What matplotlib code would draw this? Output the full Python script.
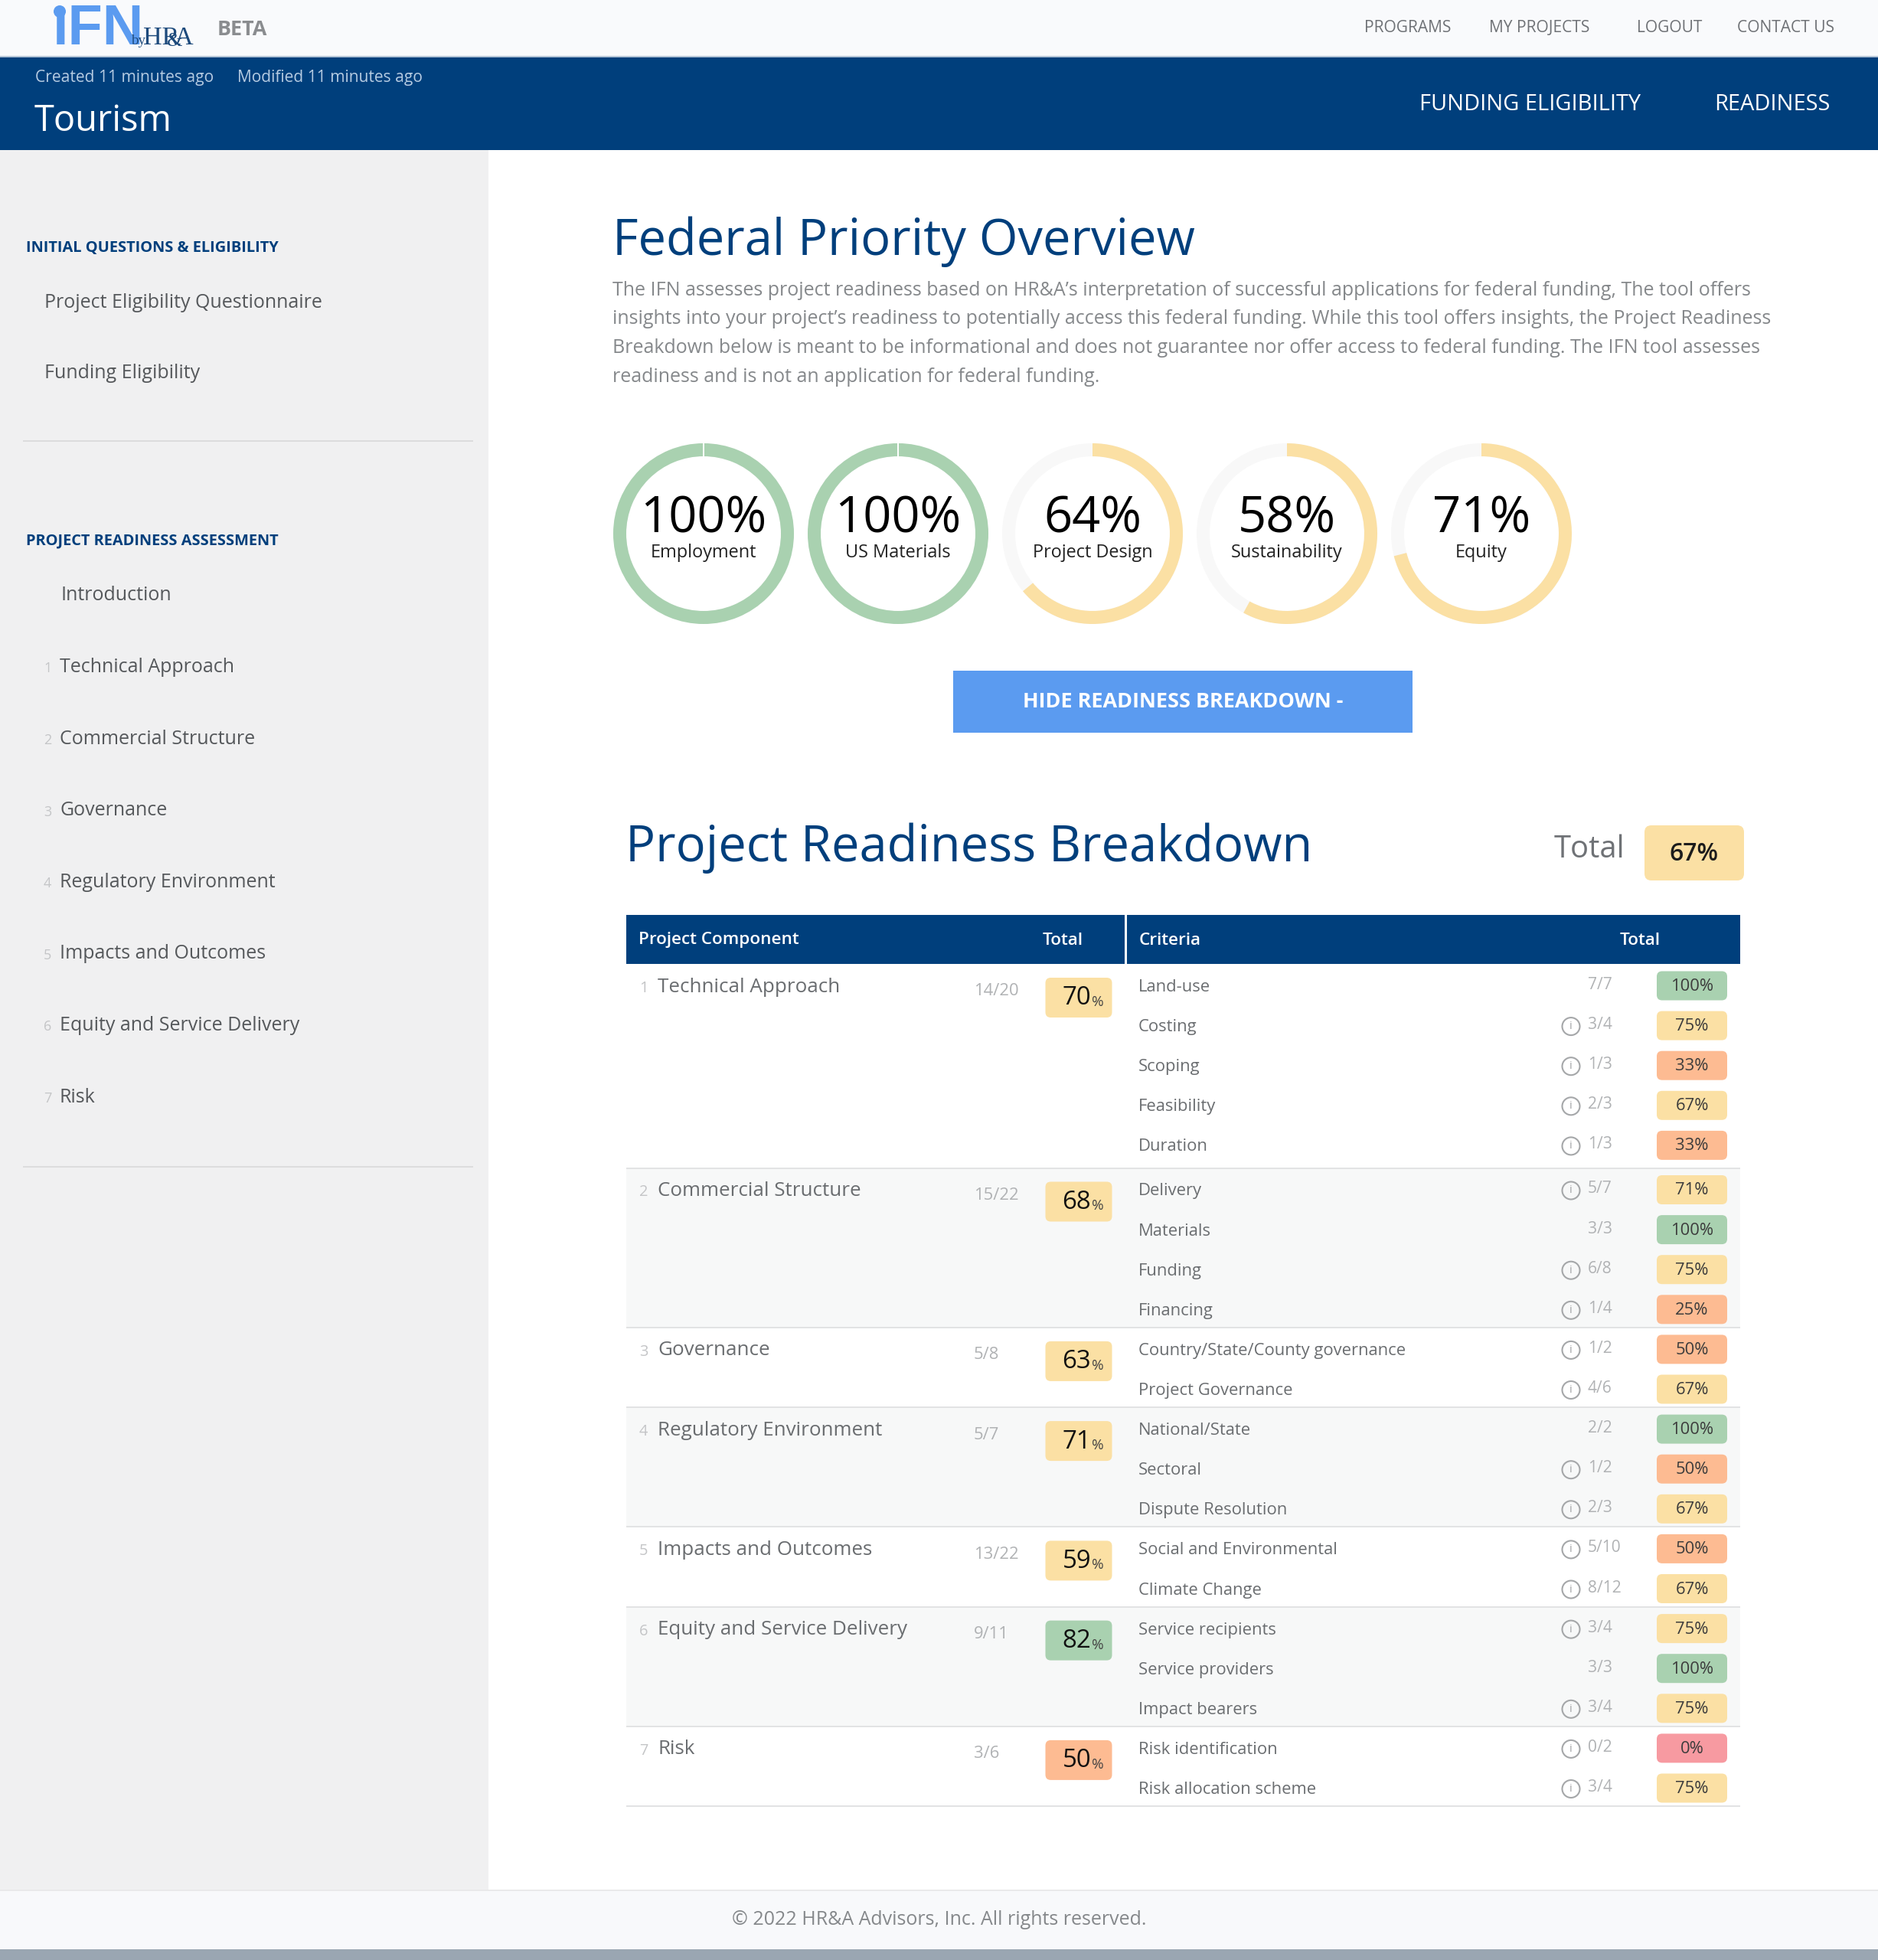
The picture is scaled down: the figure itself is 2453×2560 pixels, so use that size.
import matplotlib
matplotlib.use("Agg")
import matplotlib.pyplot as plt
from matplotlib.patches import Rectangle, FancyBboxPatch, Wedge, Circle

W, H = 2453, 2560
S = 1.6332

NAVY = "#003f7c"
GREEN = "#a9d1b0"
YELLOW = "#fbe0a4"
ORANGE = "#fdbb92"
RED = "#f79aa1"
BLUE = "#5b9bf0"
GREY = "#6f7276"
LIGHT = "#a8abae"

nav_items = ["PROGRAMS", "MY PROJECTS", "LOGOUT", "CONTACT US"]
nav_x = [1782, 1945, 2138, 2269]
donut_labels = ["Employment", "US Materials", "Project Design", "Sustainability", "Equity"]
donut_values = [100, 100, 64, 58, 71]
side_top = ["Project Eligibility Questionnaire", "Funding Eligibility"]
components = ["Technical Approach", "Commercial Structure", "Governance", "Regulatory Environment",
              "Impacts and Outcomes", "Equity and Service Delivery", "Risk"]
comp_scores = ["14/20", "15/22", "5/8", "5/7", "13/22", "9/11", "3/6"]
comp_pct = [70, 68, 63, 71, 59, 82, 50]
criteria = [
    ["Land-use", "Costing", "Scoping", "Feasibility", "Duration"],
    ["Delivery", "Materials", "Funding", "Financing"],
    ["Country/State/County governance", "Project Governance"],
    ["National/State", "Sectoral", "Dispute Resolution"],
    ["Social and Environmental", "Climate Change"],
    ["Service recipients", "Service providers", "Impact bearers"],
    ["Risk identification", "Risk allocation scheme"],
]
crit_scores = [
    ["7/7", "3/4", "1/3", "2/3", "1/3"],
    ["5/7", "3/3", "6/8", "1/4"],
    ["1/2", "4/6"],
    ["2/2", "1/2", "2/3"],
    ["5/10", "8/12"],
    ["3/4", "3/3", "3/4"],
    ["0/2", "3/4"],
]
crit_pct = [
    [100, 75, 33, 67, 33],
    [71, 100, 75, 25],
    [50, 67],
    [100, 50, 67],
    [50, 67],
    [75, 100, 75],
    [0, 75],
]
total_pct = 67
intro = ["The IFN assesses project readiness based on HR&A\u2019s interpretation of successful applications for federal funding, The tool offers",
         "insights into your project\u2019s readiness to potentially access this federal funding. While this tool offers insights, the Project Readiness",
         "Breakdown below is meant to be informational and does not guarantee nor offer access to federal funding. The IFN tool assesses",
         "readiness and is not an application for federal funding."]


def pt(px):
    return px * 0.72


def colour(p):
    if p >= 80:
        return GREEN
    if p >= 55:
        return YELLOW
    if p > 0:
        return ORANGE
    return RED


plt.rcParams["font.family"] = ["Open Sans", "DejaVu Sans"]
fig = plt.figure(figsize=(W / 100, H / 100), dpi=100, facecolor="white")
ax = fig.add_axes([0, 0, 1, 1])
ax.set_xlim(0, W)
ax.set_ylim(H, 0)
ax.axis("off")


def T(x, y, s, size, c=GREY, ha="left", va="center", **kw):
    return ax.text(x, y, s, fontsize=pt(size), color=c, ha=ha, va=va, **kw)


def R(x0, y0, x1, y1, c, z=1):
    ax.add_patch(Rectangle((x0, y0), x1 - x0, y1 - y0, fc=c, ec="none", zorder=z))


def pill(cx, cy, w, h, c, r=7):
    ax.add_patch(FancyBboxPatch((cx - w / 2 + r, cy - h / 2 + r), w - 2 * r, h - 2 * r,
                                boxstyle=f"round,pad={r},rounding_size={r}", fc=c, ec="none", zorder=2))


# page furniture
R(0, 0, W, 73, "#f9fafc")
R(0, 73, W, 75, "#b4c4d6")
R(0, 75, W, 196, NAVY)
R(0, 196, 638, 2470, "#f0f0f1")
R(0, 2470, W, 2546, "#f8f9fb")
R(0, 2468, W, 2470, "#e9e9ea", 2)
R(0, 2546, W, 2560, "#9aa6b2")

# logo
LOGO = "#5b9bf0"
T(69, 58, "\u0131FN", 74, LOGO, va="baseline", family="Liberation Sans", fontweight="bold")
ax.add_patch(Circle((78, 15), 8, fc=LOGO, ec="none", zorder=3))
T(171, 58, "by", 19, "#1d4a7c", va="baseline", family="Liberation Serif")
T(187, 58, "HR", 34, "#1d4a7c", va="baseline", family="Liberation Serif")
T(218, 60, "&", 26, "#1d4a7c", va="baseline", family="Liberation Serif")
T(228, 58, "A", 34, "#1d4a7c", va="baseline", family="Liberation Serif")
T(284, 39, "BETA", 27, "#8a8c8f", fontweight="bold", fontstretch="normal")

for x, s in zip(nav_x, nav_items):
    T(x, 37, s, 21, GREY, fontweight="normal").set_gid("nav")

T(46, 101, "Created 11 minutes ago", 21, "#b6cbe2")
T(310, 101, "Modified 11 minutes ago", 21, "#b6cbe2")
T(45, 158, "Tourism", 47, "white")
T(1854, 136, "FUNDING ELIGIBILITY", 29, "white")
T(2239, 136, "READINESS", 29, "white")

# sidebar
T(34, 324, "INITIAL QUESTIONS & ELIGIBILITY", 20, NAVY, fontweight="bold")
for y, s in zip([396, 488], side_top):
    T(58, y, s, 25, "#55585b")
R(30, 575, 618, 577, "#dcdcdd", 2)
T(34, 706, "PROJECT READINESS ASSESSMENT", 20, NAVY, fontweight="bold")
T(80, 778, "Introduction", 25, "#55585b")
for i, s in enumerate(components):
    y = 871.5 + i * 93.6
    T(57, y + 2, str(i + 1), 18, "#c4c5c7")
    T(78, y, s, 25, "#55585b")
R(30, 1523, 618, 1525, "#dcdcdd", 2)

# intro
T(800, 316, "Federal Priority Overview", 65, NAVY)
for i, s in enumerate(intro):
    T(800, 379 + i * 37.7, s, 25, "#85888b")

# donuts
centres = [919, 1173, 1427, 1681, 1935]
CY, RO, RW = 697, 118, 17
for cx, v, lab in zip(centres, donut_values, donut_labels):
    col = GREEN if v >= 80 else YELLOW
    ax.add_patch(Wedge((cx, CY), RO, 0, 360, width=RW, fc="#f8f8f8", ec="none", zorder=2))
    # y axis is inverted: angles run clockwise on screen, starting at 12 o'clock = -90
    ax.add_patch(Wedge((cx, CY), RO, -90, -90 + 3.6 * v, width=RW, fc=col, ec="none", zorder=3))
    if v == 100:
        R(cx - 0.8, CY - RO, cx + 0.8, CY - RO + RW, "white", 4)
    T(cx, 679, f"{v}%", 65, "black", ha="center", fontweight="medium")
    T(cx, 722, lab, 23.5, "#222222", ha="center")

# button
R(1245, 876, 1845, 957, BLUE)
T(1545, 917, "HIDE READINESS BREAKDOWN -", 27, "white", ha="center", fontweight="bold")

# breakdown title
T(817, 1108, "Project Readiness Breakdown", 65, NAVY)
T(2030, 1110, "Total", 40, GREY)
pill(2213, 1114, 130, 72, YELLOW, 9)
T(2213, 1115, f"{total_pct}%", 32, "#1c1c1c", ha="center", fontweight="semibold")

# table
X0, XM0, XM1, X1 = 818, 1469, 1472, 2273
HT, HB = 1195, 1259
R(X0, HT, XM0, HB, NAVY)
R(XM1, HT, X1, HB, NAVY)
T(834, 1228, "Project Component", 22.5, "white", fontweight="semibold")
T(1362, 1228, "Total", 22.5, "white", fontweight="semibold")
T(1488, 1228, "Criteria", 22.5, "white", fontweight="semibold")
T(2116, 1228, "Total", 22.5, "white", fontweight="semibold")

PITCH = 52.1
top = HB
for i, comp in enumerate(components):
    n = len(criteria[i])
    h = n * PITCH + (6 if i == 0 else 0)
    if i % 2 == 1:
        R(X0, top, X1, top + h, "#f7f8f8", 1)
    R(X0, top + h - 1, X1, top + h + 1, "#e2e3e4", 2)
    T(835, top + 32, str(i + 1), 20, "#c4c5c7")
    T(859, top + 30, comp, 26, "#6a6d70")
    T(1272, top + 36, comp_scores[i], 22, "#b0b2b4")
    pcx, pcy = 1409, top + 44
    pill(pcx, pcy, 87, 52, colour(comp_pct[i]))
    T(pcx + 16, pcy + 1, str(comp_pct[i]), 33, "#111111", ha="right", fontweight="medium")
    T(pcx + 17, pcy + 6, "%", 19, "#444444")
    for j in range(n):
        cy = top + 28.5 + j * PITCH
        T(1487, cy + 2, criteria[i][j], 22, "#6a6d70")
        s = crit_scores[i][j]
        T(2074, cy - 1, s, 21, "#b0b2b4")
        num, den = s.split("/")
        if num != den:
            ax.add_patch(Circle((2052, cy + 1), 11.5, fc="none", ec="#a5a7a9", lw=1.5, zorder=3))
            T(2052, cy + 1, "i", 15, "#a5a7a9", ha="center")
        pill(2210, cy, 92, 38, colour(crit_pct[i][j]))
        T(2210, cy + 1, f"{crit_pct[i][j]}%", 22, "#3c3c3c", ha="center")
    top += h

# footer
T(W / 2, 2508, "\u00a9 2022 HR&A Advisors, Inc. All rights reserved.", 25, "#85888b", ha="center")

fig.savefig("out.png", dpi=100, facecolor="white")
